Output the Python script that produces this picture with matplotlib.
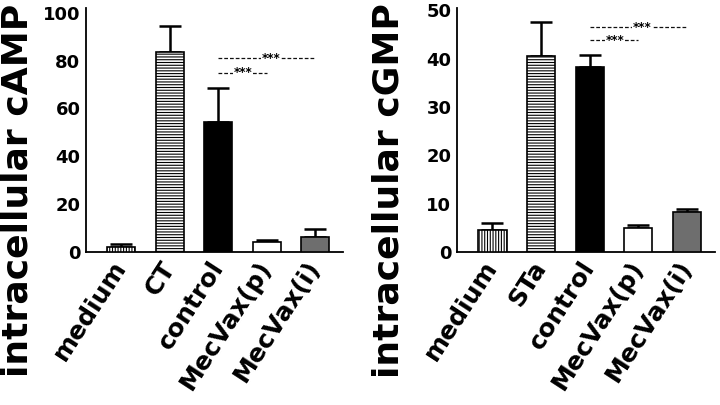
import matplotlib
matplotlib.use("Agg")
import matplotlib.pyplot as plt

# data
camp_labels = ["medium", "CT", "control", "MecVax(p)", "MecVax(i)"]
camp_means = [2.2, 83.5, 54.5, 4.0, 6.2]
camp_err = [1.2, 11.0, 14.0, 1.0, 3.3]

cgmp_labels = ["medium", "STa", "control", "MecVax(p)", "MecVax(i)"]
cgmp_means = [4.5, 40.5, 38.3, 5.0, 8.2]
cgmp_err = [1.6, 7.0, 2.5, 0.5, 0.7]

# significance marks: (x_start, x_end, x_stars, y)
camp_sig = [(2, 4, 3.08, 81), (2, 3, 2.5, 75)]
cgmp_sig = [(2, 4, 3.08, 46.5), (2, 3, 2.52, 43.8)]

plt.rcParams["font.family"] = "DejaVu Sans"
plt.rcParams["hatch.linewidth"] = 0.8

bar_style = [
    dict(color="white", hatch="||||||"),
    dict(color="white", hatch="------"),
    dict(color="black", hatch=None),
    dict(color="white", hatch=None),
    dict(color="#6e6e6e", hatch=None),
]


def panel(ax, labels, means, err, sig, top, step, ylabel, label_x):
    x = range(len(labels))
    for i in x:
        ax.bar(i, means[i], width=0.58, color=bar_style[i]["color"],
               hatch=bar_style[i]["hatch"], edgecolor="black",
               linewidth=1.2, zorder=3)
    ax.errorbar(list(x), means, yerr=[[0] * len(err), err], fmt="none",
                ecolor="black", elinewidth=1.8, capsize=8, capthick=1.8,
                zorder=2)
    for x0, x1, xs, y in sig:
        ax.plot([x0, x1], [y, y], color="#111111", lw=0.9,
                dashes=(3, 1.6), zorder=4)
        ax.text(xs, y, "***", ha="center", va="center", fontsize=8.5,
                fontweight="bold",
                bbox=dict(facecolor="white", edgecolor="none", pad=0.3),
                zorder=5)

    ax.set_xlim(-0.73, 4.57)
    ax.set_ylim(0, top)
    ax.set_yticks(range(0, int(top) + 1, step))
    ax.set_xticks(list(x))
    ax.set_xticklabels(labels, rotation=57, ha="right", va="center",
                       rotation_mode="anchor", fontsize=18,
                       fontweight="bold")
    for lab in ax.get_yticklabels():
        lab.set_fontweight("bold")
        lab.set_fontsize(13)
    ax.tick_params(axis="both", length=0, pad=4)
    ax.tick_params(axis="x", pad=8)
    for s in ["top", "right"]:
        ax.spines[s].set_visible(False)
    for s in ["left", "bottom"]:
        ax.spines[s].set_linewidth(1.3)

    fig.text(label_x, 0.53, ylabel, rotation=90, ha="center", va="center",
             fontsize=26, fontweight="bold")


fig = plt.figure(figsize=(7.2, 4.05), dpi=100)
ax1 = fig.add_axes([0.1194, 0.3778, 0.357, 0.6025])
ax2 = fig.add_axes([0.6347, 0.3778, 0.358, 0.6025])

panel(ax1, camp_labels, camp_means, camp_err, camp_sig, 102, 20,
      "intracellular cAMP", 0.024)
panel(ax2, cgmp_labels, cgmp_means, cgmp_err, cgmp_sig, 50.5, 10,
      "intracellular cGMP", 0.54)

fig.savefig("out.png", dpi=100)
